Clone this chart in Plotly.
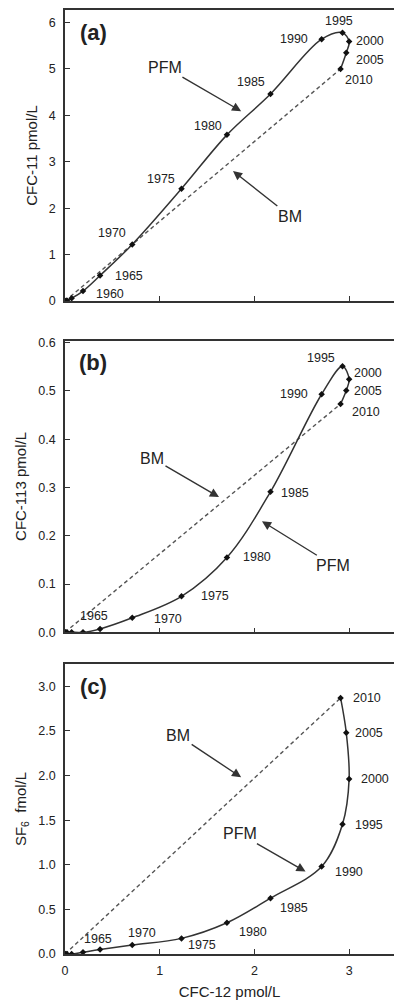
import plotly.graph_objects as go

# ---------------- data ----------------
years = [1940, 1945, 1950, 1955, 1960, 1965, 1970, 1975, 1980, 1985, 1990, 1995, 2000, 2005, 2010]
cfc12 = [0.0, 0.005, 0.02, 0.07, 0.19, 0.37, 0.71, 1.23, 1.71, 2.17, 2.71, 2.93, 3.00, 2.97, 2.91]
cfc11 = [0.0, 0.0, 0.01, 0.06, 0.215, 0.55, 1.22, 2.42, 3.58, 4.46, 5.64, 5.78, 5.59, 5.35, 5.00]
cfc113 = [0.0, 0.0, 0.0, 0.0, 0.0, 0.007, 0.030, 0.0745, 0.155, 0.291, 0.493, 0.551, 0.524, 0.501, 0.473]
sf6 = [0.0, 0.0, 0.0, 0.0, 0.02, 0.05, 0.10, 0.175, 0.35, 0.626, 0.98, 1.454, 1.96, 2.48, 2.87]

panel_names = ["(a)", "(b)", "(c)"]
y_titles = ["CFC-11 pmol/L", "CFC-113 pmol/L", "SF<sub>6</sub>  fmol/L"]
x_title = "CFC-12 pmol/L"

# year-label offsets (pixels: dx right, dy down) for each panel
label_offsets = [
    {1960: (27, 3), 1965: (29, 0), 1970: (-20, -11), 1975: (-20, -10), 1980: (-19, -9),
     1985: (-20, -12), 1990: (-28, 0), 1995: (-3, -12), 2000: (21, -1), 2005: (24, 7), 2010: (18, 11)},
    {1965: (-6, -13), 1970: (36, 1), 1975: (34, 0), 1980: (30, 0), 1985: (24, 1),
     1990: (-28, 0), 1995: (-21, -8), 2000: (19, -6), 2005: (22, 1), 2010: (25, 8)},
    {1965: (-2, -11), 1970: (10, -12), 1975: (21, 7), 1980: (26, 9), 1985: (23, 10),
     1990: (27, 5), 1995: (27, 1), 2000: (26, 0), 2005: (23, 0), 2010: (26, 0)},
]

# arrow labels: (text, tip_x, tip_y, ax, ay)
arrows = [
    [("PFM", 1.86, 4.09, -76, -44), ("BM", 1.774, 2.80, 57, 45)],
    [("BM", 1.626, 0.280, -67, -39), ("PFM", 2.08, 0.230, 71, 44)],
    [("BM", 1.86, 1.98, -63, -42), ("PFM", 2.54, 0.924, -66, -38)],
]

y_series = [cfc11, cfc113, sf6]
y_ranges = [[0, 6.27], [0, 0.604], [0, 3.25]]
y_dticks = [1, 0.1, 0.5]
y_formats = ["d", ".1f", ".1f"]
domains = [[0.6917, 1.0], [0.3408, 0.6497], [0.0, 0.3072]]
x_range = [0, 3.474]

FONT = "Liberation Sans, Arial, Helvetica, sans-serif"
TXT = "#222222"
LINE = "#333333"

fig = go.Figure()
annotations = []

for i in range(3):
    xa = "x" if i == 0 else f"x{i+1}"
    ya = "y" if i == 0 else f"y{i+1}"
    ys = y_series[i]
    # BM: straight mixing line from zero to the 2010 value
    fig.add_trace(go.Scatter(
        x=[0, cfc12[-1]], y=[0, ys[-1]], xaxis=xa, yaxis=ya, mode="lines",
        line=dict(color="#555555", width=1.4, dash="4px,3px"),
        showlegend=False, hoverinfo="skip"))
    # PFM curve
    fig.add_trace(go.Scatter(
        x=cfc12, y=ys, xaxis=xa, yaxis=ya, mode="lines+markers",
        line=dict(color=LINE, width=1.5, shape="spline", smoothing=1.0),
        marker=dict(symbol="diamond", size=5, color="#111111"),
        showlegend=False, text=years))
    # year labels
    for yr, (dx, dy) in label_offsets[i].items():
        k = years.index(yr)
        annotations.append(dict(
            x=cfc12[k], y=ys[k], xref=xa, yref=ya, text=str(yr), showarrow=False,
            xanchor="center", yanchor="middle",
            xshift=dx, yshift=-dy, font=dict(family=FONT, size=12.5, color=TXT)))
    # arrow labels
    for txt, tx, ty, ax, ay in arrows[i]:
        annotations.append(dict(
            x=tx, y=ty, xref=xa, yref=ya, text=txt, showarrow=True,
            ax=ax, ay=ay, arrowhead=2, arrowsize=1.3, arrowwidth=1.4,
            arrowcolor=LINE, standoff=0,
            font=dict(family=FONT, size=16, color=TXT)))
    # panel letter
    annotations.append(dict(
        x=0.086, y=0.924, xref=f"{xa} domain", yref=f"{ya} domain",
        xanchor="center", yanchor="middle",
        text=f"<b>{panel_names[i]}</b>", showarrow=False,
        font=dict(family=FONT, size=22, color=TXT)))

axis_common = dict(
    showline=True, linecolor=LINE, linewidth=1.5, ticks="inside", ticklen=5,
    tickcolor=LINE, tickwidth=1.2, showgrid=False, zeroline=False,
    tickfont=dict(family=FONT, size=12.5, color=TXT))

layout = dict(
    width=394, height=1001,
    margin=dict(l=65, r=0, t=10, b=47),
    paper_bgcolor="white", plot_bgcolor="white",
    annotations=annotations, showlegend=False,
    font=dict(family=FONT, color=TXT),
)

for i in range(3):
    xk = "xaxis" if i == 0 else f"xaxis{i+1}"
    yk = "yaxis" if i == 0 else f"yaxis{i+1}"
    ya = "y" if i == 0 else f"y{i+1}"
    xa = "x" if i == 0 else f"x{i+1}"
    xdict = dict(axis_common, domain=[0, 1], anchor=ya, range=x_range,
                 dtick=1, tick0=0, mirror=True,
                 showticklabels=(i == 2), ticklabelstandoff=4)
    if i == 2:
        xdict["title"] = dict(text=x_title, font=dict(family=FONT, size=15, color=TXT), standoff=10)
    layout[xk] = xdict
    layout[yk] = dict(axis_common, domain=domains[i], anchor=xa, range=y_ranges[i],
                      dtick=y_dticks[i], tick0=0, tickformat=y_formats[i],
                      ticklabelstandoff=5,
                      title=dict(text=y_titles[i], font=dict(family=FONT, size=15, color=TXT),
                                 standoff=8))

fig.update_layout(layout)
fig.write_html("out.html",
               config={"displayModeBar": False},
               post_script="document.body.style.margin='0';document.body.style.overflow='hidden';")
